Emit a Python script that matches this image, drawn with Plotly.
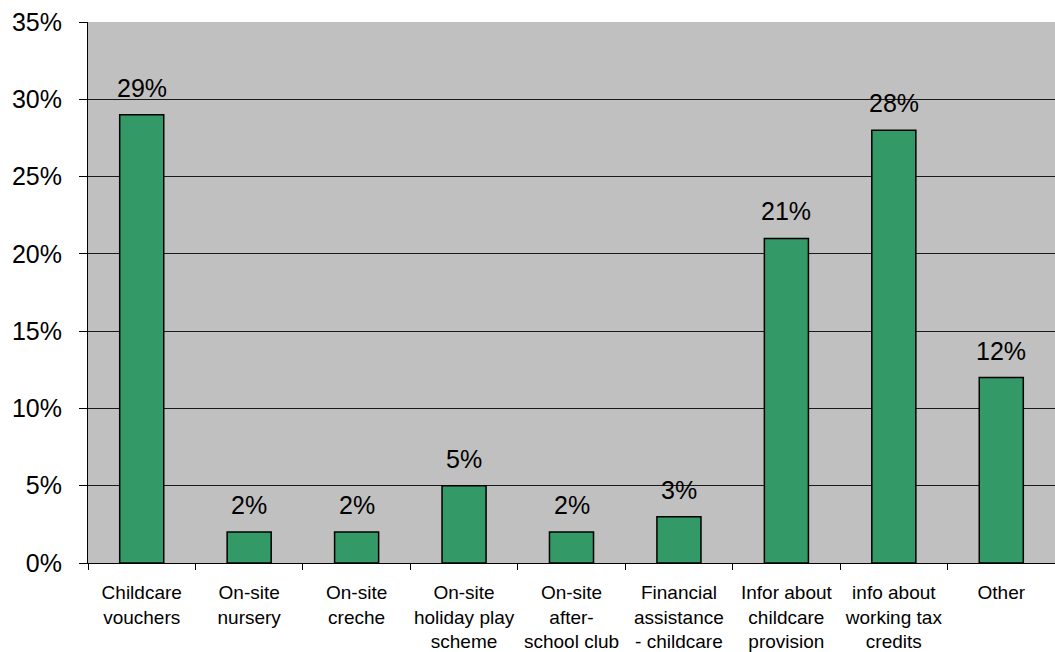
import plotly.graph_objects as go

categories = [
    "Childcare<br>vouchers",
    "On-site<br>nursery",
    "On-site<br>creche",
    "On-site<br>holiday play<br>scheme",
    "On-site<br>after-<br>school club",
    "Financial<br>assistance<br>- childcare",
    "Infor about<br>childcare<br>provision",
    "info about<br>working tax<br>credits",
    "Other",
]
values = [29, 2, 2, 5, 2, 3, 21, 28, 12]
y_ticks = [0, 5, 10, 15, 20, 25, 30, 35]
y_tick_labels = [f"{v}%" for v in y_ticks]

font_family = "Liberation Sans, Arial, sans-serif"

fig = go.Figure()
fig.add_trace(go.Bar(
    x=categories,
    y=values,
    width=0.41,
    marker=dict(color="#339966", line=dict(color="black", width=1.5)),
    hoverinfo="skip",
))

for c, v in zip(categories, values):
    fig.add_annotation(
        x=c, y=v, text=f"{v}%", showarrow=False,
        yanchor="bottom", yshift=11,
        font=dict(family=font_family, size=25, color="black"),
    )

fig.update_layout(
    width=1055, height=652,
    margin=dict(l=88, r=0, t=22, b=89),
    paper_bgcolor="white",
    plot_bgcolor="#C0C0C0",
    showlegend=False,
    font=dict(family=font_family, color="black"),
)
fig.update_xaxes(
    type="category",
    automargin=False,
    tickangle=0,
    showline=True, linecolor="black", linewidth=1,
    ticks="outside", tickson="boundaries", ticklen=6, tickcolor="black",
    ticklabelstandoff=12,
    tickfont=dict(family=font_family, size=19, color="black"),
    showgrid=False,
)
fig.update_yaxes(
    range=[0, 35],
    automargin=False,
    tickvals=y_ticks, ticktext=y_tick_labels,
    showline=True, linecolor="black", linewidth=1,
    ticks="outside", ticklen=8, tickcolor="black",
    ticklabelstandoff=12,
    tickfont=dict(family=font_family, size=25, color="black"),
    showgrid=True, gridcolor="#1a1a1a", gridwidth=1,
    zeroline=False,
)

fig.write_html("out.html")
